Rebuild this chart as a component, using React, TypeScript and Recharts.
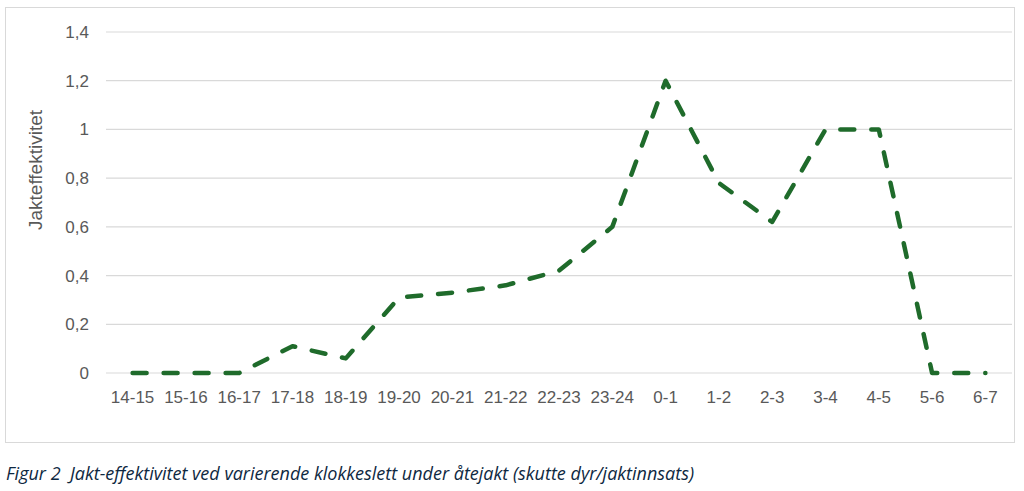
import { LineChart, Line, XAxis, YAxis, CartesianGrid, Label } from "recharts";

// hour intervals on the x axis
const hours = [
  "14-15", "15-16", "16-17", "17-18", "18-19", "19-20", "20-21", "21-22", "22-23",
  "23-24", "0-1", "1-2", "2-3", "3-4", "4-5", "5-6", "6-7",
];

// jakteffektivitet (skutte dyr / jaktinnsats)
const efficiency = [
  0, 0, 0, 0.11, 0.06, 0.31, 0.33, 0.36, 0.42,
  0.6, 1.2, 0.78, 0.62, 1, 1, 0, 0,
];

const yTicks = [0, 0.2, 0.4, 0.6, 0.8, 1, 1.2, 1.4];

const data = hours.map((h, i) => ({ hour: h, value: efficiency[i] }));

const font = "'Liberation Sans', Arial, sans-serif";
const grey = "#595959";

const fmt = (v: number) => String(v).replace(".", ",");

function YTitle() {
  return (
    <text
      x={29}
      y={162}
      transform="rotate(-90 29 162)"
      textAnchor="middle"
      dominantBaseline="central"
      fill={grey}
      fontSize={19}
      fontFamily={font}
    >
      Jakteffektivitet
    </text>
  );
}

export default function App() {
  return (
    <div style={{ position: "absolute", left: 0, top: 0, width: 1024, height: 491, background: "#fff" }}>
      <div
        style={{
          position: "absolute",
          left: 5,
          top: 7,
          width: 1008,
          height: 434,
          border: "1px solid #d9d9d9",
        }}
      >
        <LineChart
          width={1008}
          height={434}
          data={data}
          margin={{ top: 24, right: 2, bottom: 39, left: 0 }}
          style={{ fontFamily: font }}
        >
          <CartesianGrid vertical={false} stroke="#d9d9d9" strokeWidth={1.2} />
          <XAxis
            dataKey="hour"
            axisLine={false}
            tickLine={false}
            tickSize={0}
            tickMargin={18}
            height={30}
            interval={0}
            padding={{ left: 26.6, right: 26.6 }}
            tick={{ fill: grey, fontSize: 17 }}
          />
          <YAxis
            domain={[0, 1.4]}
            ticks={yTicks}
            tickFormatter={fmt}
            axisLine={false}
            tickLine={false}
            tickSize={0}
            tickMargin={17}
            width={100}
            tick={{ fill: grey, fontSize: 17 }}
          >
            <Label content={<YTitle />} />
          </YAxis>
          <Line
            type="linear"
            dataKey="value"
            stroke="#1f6b2b"
            strokeWidth={4.5}
            strokeDasharray="14 17"
            strokeLinecap="round"
            strokeLinejoin="round"
            dot={false}
            activeDot={false}
            isAnimationActive={false}
          />
        </LineChart>
      </div>
      <div
        style={{
          position: "absolute",
          left: 6,
          top: 461,
          fontFamily: "'Open Sans', sans-serif",
          fontStyle: "italic",
          fontSize: 18,
          color: "#0e2841",
          whiteSpace: "nowrap",
        }}
      >
        Figur 2&nbsp; Jakt-effektivitet ved varierende klokkeslett under åtejakt (skutte dyr/jaktinnsats)
      </div>
    </div>
  );
}
